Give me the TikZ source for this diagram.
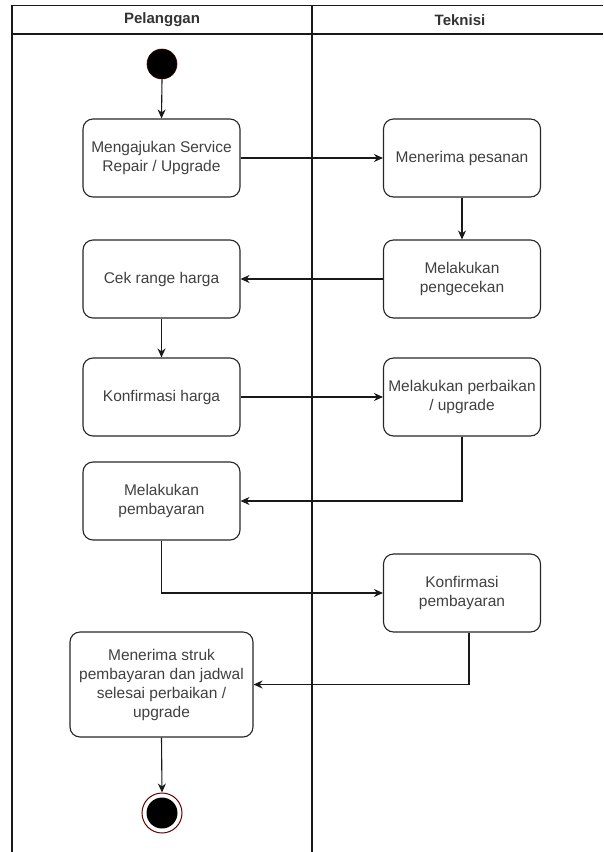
\documentclass[tikz,border=0pt]{standalone}
\usepackage{fontspec}
\setmainfont{Liberation Sans}
\usetikzlibrary{arrows.meta}

\begin{document}
\begin{tikzpicture}[
  x=1pt, y=-1pt,
  lane/.style={draw=black!90, line width=1.1pt},
  lanehead/.style={font=\fontsize{15}{18}\selectfont\bfseries, text=black!80},
  activity/.style={draw=black!85, line width=1.1pt, rounded corners=10pt,
    align=center, text=black!75, inner sep=0pt,
    font=\fontsize{15.5}{19}\selectfont,
    minimum width=157, minimum height=78},
  flow/.style={draw=black!90, line width=1.1pt, -{Stealth[length=9pt,width=8pt]}},
  startstate/.style={circle, fill=black, draw=red!25!black, line width=0.6pt,
    minimum size=30, inner sep=0pt},
  endring/.style={circle, fill=white, draw=red!40!black, line width=1pt,
    minimum size=40, inner sep=0pt},
  endcore/.style={circle, fill=black, minimum size=31, inner sep=0pt},
]
\useasboundingbox (0,0) rectangle (603,852);

% Swimlanes
\draw[lane] (12,852) -- (12,5.5) -- (603,5.5);
\draw[lane] (12,34) -- (603,34);
\draw[lane] (312,5.5) -- (312,852);
\node[lanehead] (hpel) at (162,20) {Pelanggan};
\node[lanehead] (htek) at (460,20) {Teknisi};

% Start and end
\node[startstate] (start) at (162,64) {};
\node[endring] (stop) at (162,813) {};
\node[endcore] (stopcore) at (stop) {};

% Pelanggan
\node[activity] (ajukan) at (161.5,158) {Mengajukan Service\\Repair / Upgrade};
\node[activity] (cekharga) at (161.5,279) {Cek range harga};
\node[activity] (konfharga) at (161.5,397) {Konfirmasi harga};
\node[activity] (bayar) at (161.5,501) {Melakukan\\pembayaran};
\node[activity, minimum width=183, minimum height=105] (struk) at (161.5,684.5)
  {Menerima struk\\pembayaran dan jadwal\\selesai perbaikan /\\upgrade};

% Teknisi
\node[activity] (terima) at (462,158) {Menerima pesanan};
\node[activity] (cek) at (462,279) {Melakukan\\pengecekan};
\node[activity] (perbaikan) at (462,397) {Melakukan perbaikan\\/ upgrade};
\node[activity] (konfbayar) at (462,593) {Konfirmasi\\pembayaran};

% Flows
\draw[flow] (start.south) -- (ajukan.north);
\draw[flow] (ajukan.east) -- (terima.west);
\draw[flow] (terima.south) -- (cek.north);
\draw[flow] (cek.west) -- (cekharga.east);
\draw[flow] (cekharga.south) -- (konfharga.north);
\draw[flow] (konfharga.east) -- (perbaikan.west);
\draw[flow] (perbaikan.south) |- (bayar.east);
\draw[flow] (bayar.south) |- (konfbayar.west);
\draw[flow] ([xshift=7pt]konfbayar.south) |- (struk.east);
\draw[flow] (struk.south) -- (stop.north);

\end{tikzpicture}
\end{document}
